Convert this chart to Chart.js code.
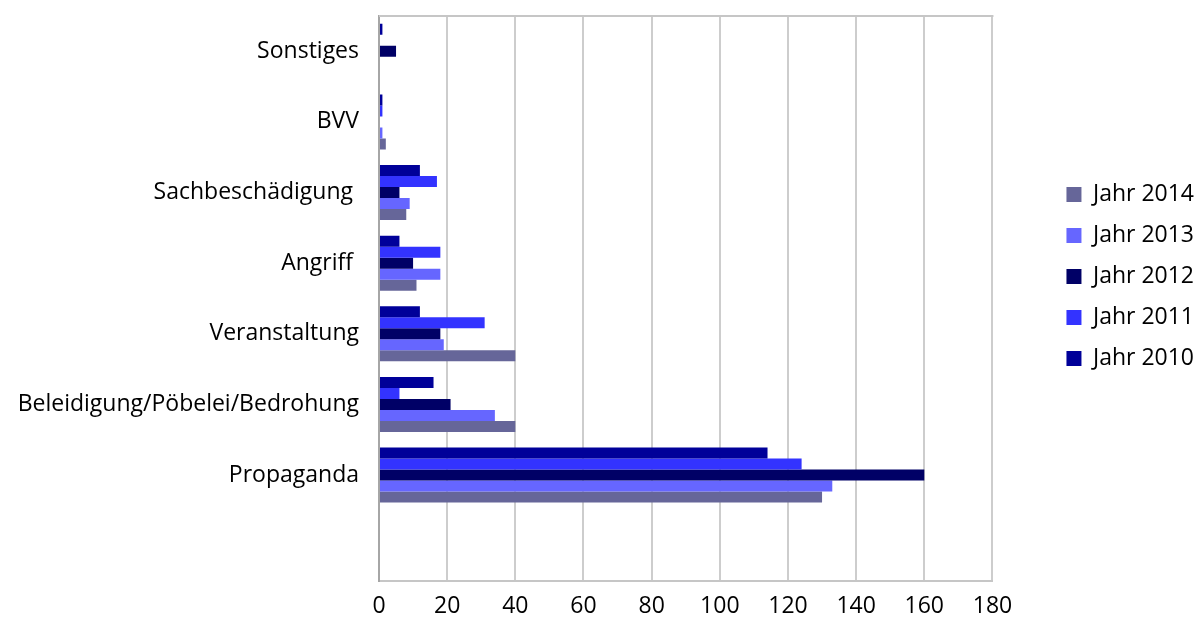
<!DOCTYPE html>
<html><head><meta charset="utf-8">
<script src="https://cdn.jsdelivr.net/npm/chart.js@4/dist/chart.umd.min.js"></script>
<style>html,body{margin:0;padding:0;background:#fff}#wrap{width:1204px;height:617px;position:relative}</style>
</head><body><div id="wrap"><canvas id="c"></canvas></div>
<script>
const categories = ["Sonstiges", "BVV", "Sachbeschädigung ", "Angriff ", "Veranstaltung", "Beleidigung/Pöbelei/Bedrohung", "Propaganda", ""];
const seriesNames = ["Jahr 2010", "Jahr 2011", "Jahr 2012", "Jahr 2013", "Jahr 2014"];
const jahr2010 = [1, 1, 12, 6, 12, 16, 114, null];
const jahr2011 = [0, 1, 17, 18, 31, 6, 124, null];
const jahr2012 = [5, 0, 6, 10, 18, 21, 160, null];
const jahr2013 = [0, 1, 9, 18, 19, 34, 133, null];
const jahr2014 = [0, 2, 8, 11, 40, 40, 130, null];
const xTickValues = [0, 20, 40, 60, 80, 100, 120, 140, 160, 180];
const colors = ["#000099", "#3333ff", "#000066", "#6666ff", "#666699"];

const FONT = "Open Sans";
const FS = 23;
const seriesValues = [jahr2010, jahr2011, jahr2012, jahr2013, jahr2014];

const topBorder = {
  id: 'topBorder',
  beforeDatasetsDraw(chart) {
    const {ctx, chartArea} = chart;
    ctx.save();
    ctx.strokeStyle = '#c6c6c6';
    ctx.lineWidth = 2;
    ctx.beginPath();
    ctx.moveTo(chartArea.left, chartArea.top);
    ctx.lineTo(chartArea.right + 1, chartArea.top);
    ctx.stroke();
    ctx.restore();
  }
};

new Chart(document.getElementById('c'), {
  type: 'bar',
  data: {
    labels: categories,
    datasets: seriesNames.map((n, i) => ({
      label: n,
      data: seriesValues[i],
      backgroundColor: colors[i],
      borderWidth: 0,
      categoryPercentage: 0.78,
      barPercentage: 1.0
    }))
  },
  options: {
    indexAxis: 'y',
    responsive: true,
    maintainAspectRatio: false,
    animation: false,
    layout: { padding: { top: 16, right: 0, bottom: 0, left: 0 } },
    scales: {
      x: {
        min: 0, max: 180,
        afterBuildTicks: s => { s.ticks = xTickValues.map(v => ({ value: v })); },
        afterFit: s => { s.paddingLeft = 0; s.paddingRight = 0; s.height = 36; },
        grid: { color: '#cdcdcd', lineWidth: 2, drawTicks: false },
        border: { color: '#c6c6c6', width: 2 },
        ticks: { color: '#000', font: { family: FONT, size: FS }, padding: 12 }
      },
      y: {
        afterFit: s => { s.width = 379; s.paddingTop = 0; s.paddingBottom = 0; },
        grid: { display: false },
        border: { color: '#a6a6a6', width: 2 },
        ticks: { color: '#000', font: { family: FONT, size: FS }, padding: 12 }
      },
      gap: {
        type: 'category',
        position: 'right',
        display: true,
        afterFit: s => { s.width = 56; s.paddingTop = 0; s.paddingBottom = 0; },
        grid: { display: false },
        border: { display: false },
        ticks: { display: false }
      }
    },
    plugins: {
      tooltip: { enabled: false },
      legend: {
        position: 'right',
        align: 'start',
        reverse: true,
        title: { display: true, text: ' ', font: { size: 10 }, padding: { top: 137, bottom: 0 } },
        labels: { color: '#000', font: { family: FONT, size: FS }, boxWidth: 15, boxHeight: 15, padding: 18 }
      }
    }
  },
  plugins: [topBorder]
});
</script></body></html>
